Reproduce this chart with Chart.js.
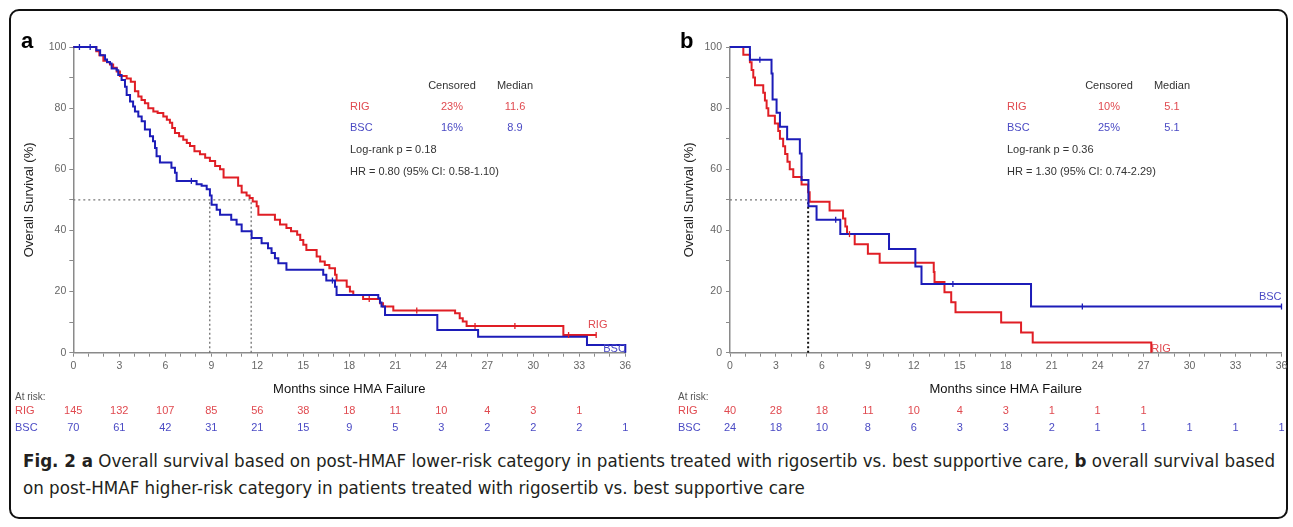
<!DOCTYPE html>
<html>
<head>
<meta charset="utf-8">
<script src="https://cdn.jsdelivr.net/npm/chart.js@4.4.0/dist/chart.umd.min.js"></script>
<style>
  body { margin: 0; background: #fff; width: 1293px; height: 527px; overflow: hidden; position: relative; font-family: "Liberation Sans", Arial, sans-serif; }
  #frame { position: absolute; left: 9px; top: 9px; width: 1279px; height: 510px; box-sizing: border-box; border: 2px solid #111; border-radius: 10px; }
  #wrapA { position: absolute; left: 0; top: 0; width: 650px; height: 440px; }
  #wrapB { position: absolute; left: 650px; top: 0; width: 643px; height: 440px; }
  #caption { position: absolute; left: 23px; top: 447px; font-family: "Liberation Sans Narrow", "DejaVu Sans Condensed", "Liberation Sans", sans-serif; font-size: 18.5px; color: #231f20; }
  #caption .ln { white-space: nowrap; display: inline-block; transform-origin: left center; line-height: 27px; }
</style>
</head>
<body>
<div id="frame"></div>
<div id="wrapA"><canvas id="chartA"></canvas></div>
<div id="wrapB"><canvas id="chartB"></canvas></div>
<div id="caption">
  <span class="ln" id="cap1"><b>Fig. 2 a</b> Overall survival based on post-HMAF lower-risk category in patients treated with rigosertib vs. best supportive care, <b>b</b> overall survival based</span><br>
  <span class="ln" id="cap2">on post-HMAF higher-risk category in patients treated with rigosertib vs. best supportive care</span>
</div>
<script>
// ---- data ----
const riskTimes = [0, 3, 6, 9, 12, 15, 18, 21, 24, 27, 30, 33, 36];

// panel a - lower risk
const rigA_t = [0, 1.5, 1.7, 1.96, 2.2, 2.39, 2.6, 2.83, 3.04, 3.48, 3.75, 4.02, 4.24, 4.45, 4.67, 4.89, 5.22, 5.5, 5.87, 6.1, 6.3, 6.45, 6.63, 6.9, 7.17, 7.4, 7.61, 7.9, 8.26, 8.6, 8.91, 9.25, 9.57, 9.8, 10.75, 10.98, 11.3, 11.5, 11.7, 11.96, 12.07, 13.15, 13.48, 13.9, 14.2, 14.6, 14.8, 15.0, 15.2, 15.87, 16.1, 16.4, 16.7, 17.07, 17.17, 17.83, 18.04, 18.26, 18.9, 20.0, 20.2, 20.87, 24.9, 25.2, 25.4, 25.65, 31.96, 34.1];
const rigA_s = [100, 98.6, 97.3, 95.5, 95.0, 94.3, 93.2, 92.0, 90.5, 89.7, 88.6, 85.5, 83.8, 82.7, 81.6, 80.0, 78.9, 78.4, 77.3, 76.2, 75.2, 73.5, 71.9, 70.8, 69.7, 68.6, 67.6, 65.9, 64.9, 63.8, 62.7, 61.1, 60.0, 57.3, 54.6, 52.4, 51.4, 50.6, 49.5, 47.9, 45.1, 43.5, 41.9, 40.8, 39.7, 38.6, 36.9, 35.3, 33.6, 31.5, 29.8, 28.7, 27.6, 25.5, 23.6, 21.6, 20.0, 18.9, 17.6, 16.2, 15.1, 13.8, 12.9, 11.3, 10.2, 8.7, 5.8, 5.8];
const bscA_t = [0, 1.5, 1.75, 2.07, 2.2, 2.39, 2.5, 2.83, 2.93, 3.15, 3.37, 3.48, 3.7, 3.9, 4.02, 4.24, 4.46, 4.67, 5.0, 5.2, 5.33, 5.43, 5.65, 6.4, 6.63, 6.74, 8.04, 8.37, 8.7, 8.91, 9.02, 9.35, 9.57, 10.3, 10.65, 10.98, 11.63, 12.28, 12.7, 12.93, 13.15, 13.37, 13.9, 16.3, 16.5, 17.07, 17.17, 19.89, 20.0, 20.1, 20.33, 23.74, 26.4, 33.5, 36];
const bscA_s = [100, 98.9, 97.3, 95.9, 95.1, 94.6, 93.0, 92.4, 90.8, 89.2, 87.0, 84.3, 82.2, 80.5, 78.9, 77.3, 75.7, 73.0, 70.8, 69.2, 67.0, 64.3, 62.2, 60.5, 58.9, 56.2, 55.1, 54.6, 53.5, 51.4, 48.4, 46.8, 45.1, 43.5, 41.9, 39.7, 37.5, 35.8, 34.2, 32.6, 30.9, 29.3, 27.1, 25.5, 23.6, 21.6, 18.9, 17.8, 16.4, 15.1, 12.3, 7.4, 5.2, 2.5, 0];
const rigCensA_t = [19.3, 22.4, 26.2, 28.8, 32.3, 34.1];
const rigCensA_s = [17.6, 13.8, 8.7, 8.7, 5.8, 5.8];
const bscCensA_t = [0.4, 1.1, 7.7, 16.9];
const bscCensA_s = [100, 100, 56.2, 23.6];
const rigRiskA = [145, 132, 107, 85, 56, 38, 18, 11, 10, 4, 3, 1];
const bscRiskA = [70, 61, 42, 31, 21, 15, 9, 5, 3, 2, 2, 2, 1];
const medianA = [11.6, 8.9];
const statsA = { rig: ["23%", "11.6"], bsc: ["16%", "8.9"], lr: "Log-rank p = 0.18", hr: "HR = 0.80 (95% CI: 0.58-1.10)" };

// panel b - higher risk
const rigB_t = [0, 0.87, 1.3, 1.41, 1.52, 1.63, 2.17, 2.28, 2.39, 2.5, 2.93, 3.15, 3.26, 3.47, 3.6, 3.75, 3.9, 4.13, 4.67, 5.1, 5.2, 6.5, 7.38, 7.53, 7.64, 8.14, 9.0, 9.77, 13.3, 13.35, 14.0, 14.44, 14.72, 17.7, 19.0, 19.76, 27.5];
const rigB_s = [100, 97.5, 95.0, 92.5, 90.0, 87.5, 85.0, 82.5, 80.0, 77.5, 75.0, 72.5, 70.0, 67.5, 65.0, 62.5, 60.0, 57.5, 55.0, 52.5, 49.4, 46.5, 43.9, 41.3, 38.8, 35.5, 32.4, 29.4, 26.4, 23.1, 19.8, 16.5, 13.2, 9.9, 6.6, 3.3, 0];
const bscB_t = [0, 1.3, 2.71, 2.78, 3.04, 3.26, 3.73, 4.56, 4.67, 5.12, 5.65, 7.2, 10.38, 12.1, 12.5, 19.65, 36];
const bscB_s = [100, 95.8, 91.3, 82.8, 78.5, 73.9, 69.8, 65.2, 56.5, 47.9, 43.5, 38.8, 33.9, 28.2, 22.5, 15.1, 15.1];
const rigCensB_t = [7.8];
const rigCensB_s = [38.8];
const bscCensB_t = [1.95, 6.9, 14.55, 23.0, 36];
const bscCensB_s = [95.8, 43.5, 22.5, 15.1, 15.1];
const rigRiskB = [40, 28, 18, 11, 10, 4, 3, 1, 1, 1];
const bscRiskB = [24, 18, 10, 8, 6, 3, 3, 2, 1, 1, 1, 1, 1];
const medianB = [5.1];
const statsB = { rig: ["10%", "5.1"], bsc: ["25%", "5.1"], lr: "Log-rank p = 0.36", hr: "HR = 1.30 (95% CI: 0.74-2.29)" };

const RED = "#e01e25";
const BLUE = "#1c1cb8";
const RED_TXT = "#e04a50";
const BLUE_TXT = "#4a4ac4";
const AXIS = "#8a8a8a";

function pts(ts, ss) {
  return ts.map((t, i) => ({ x: t, y: ss[i] }));
}

// text drawn on top of each panel: letter, stats table, at risk table, axis title, curve labels
const kmText = {
  id: "kmText",
  afterDraw(chart, args, o) {
    const ctx = chart.ctx;
    const xs = chart.scales.x;
    const ys = chart.scales.y;
    const ca = chart.chartArea;
    ctx.save();
    ctx.textBaseline = "alphabetic";

    // panel letter
    ctx.fillStyle = "#000";
    ctx.font = "bold 22px 'Liberation Sans', Arial";
    ctx.textAlign = "left";
    ctx.fillText(o.letter, o.letterX, 48);

    ctx.textBaseline = "middle";
    // stats box
    const s = o.stats;
    ctx.font = "11px 'Liberation Sans', Arial";
    ctx.fillStyle = "#333";
    ctx.textAlign = "center";
    ctx.fillText("Censored", o.censX, 86);
    ctx.fillText("Median", o.medX, 86);
    ctx.textAlign = "left";
    ctx.fillStyle = RED_TXT;
    ctx.fillText("RIG", o.labelX, 107);
    ctx.fillStyle = BLUE_TXT;
    ctx.fillText("BSC", o.labelX, 128);
    ctx.textAlign = "center";
    ctx.fillStyle = RED_TXT;
    ctx.fillText(s.rig[0], o.censX, 107);
    ctx.fillText(s.rig[1], o.medX, 107);
    ctx.fillStyle = BLUE_TXT;
    ctx.fillText(s.bsc[0], o.censX, 128);
    ctx.fillText(s.bsc[1], o.medX, 128);
    ctx.textAlign = "left";
    ctx.fillStyle = "#333";
    ctx.fillText(s.lr, o.labelX, 150);
    ctx.fillText(s.hr, o.labelX, 172);

    // curve end labels
    o.endLabels.forEach((l) => {
      ctx.fillStyle = l.color;
      ctx.textAlign = l.align;
      ctx.fillText(l.text, xs.getPixelForValue(l.x), ys.getPixelForValue(l.y));
    });

    // x axis title
    ctx.fillStyle = "#111";
    ctx.font = "13px 'Liberation Sans', Arial";
    ctx.textAlign = "center";
    ctx.fillText("Months since HMA Failure", (ca.left + ca.right) / 2, 389);

    // at risk table
    ctx.font = "10px 'Liberation Sans', Arial";
    ctx.fillStyle = "#555";
    ctx.textAlign = "left";
    ctx.fillText("At risk:", o.riskX, 397);
    ctx.font = "11px 'Liberation Sans', Arial";
    ctx.fillStyle = RED_TXT;
    ctx.fillText("RIG", o.riskX, 411);
    ctx.fillStyle = BLUE_TXT;
    ctx.fillText("BSC", o.riskX, 428);
    ctx.textAlign = "center";
    o.rigRisk.forEach((n, i) => {
      ctx.fillStyle = RED_TXT;
      ctx.fillText(n, xs.getPixelForValue(riskTimes[i]), 411);
    });
    o.bscRisk.forEach((n, i) => {
      ctx.fillStyle = BLUE_TXT;
      ctx.fillText(n, xs.getPixelForValue(riskTimes[i]), 428);
    });
    ctx.restore();
  },
};

function makeKM(id, p) {
  const datasets = [
    { data: pts(p.bscCt, p.bscCs), type: "scatter", showLine: false, pointStyle: "line", rotation: 90, pointRadius: 3, borderColor: BLUE, borderWidth: 1.3 },
    { data: pts(p.rigCt, p.rigCs), type: "scatter", showLine: false, pointStyle: "line", rotation: 90, pointRadius: 3, borderColor: RED, borderWidth: 1.3 },
    { data: pts(p.bscT, p.bscS), stepped: true, borderColor: BLUE, borderWidth: 2, pointRadius: 0 },
    { data: pts(p.rigT, p.rigS), stepped: true, borderColor: RED, borderWidth: 2, pointRadius: 0 },
    // median guide lines
    { data: [{ x: 0, y: 50 }, { x: Math.max(...p.median), y: 50 }], borderColor: "#777", borderWidth: 1.2, borderDash: [2, 3], pointRadius: 0 },
  ];
  p.median.forEach((m) => {
    datasets.push({ data: [{ x: m, y: 0 }, { x: m, y: 50 }], borderColor: p.vColor, borderWidth: p.vWidth, borderDash: [2, 2.5], pointRadius: 0 });
  });

  return new Chart(document.getElementById(id), {
    type: "line",
    data: { datasets: datasets },
    plugins: [kmText],
    options: {
      responsive: true,
      maintainAspectRatio: false,
      animation: false,
      clip: false,
      layout: { padding: { left: p.padLeft, right: p.padRight, top: 47, bottom: 57.3 } },
      plugins: {
        legend: { display: false },
        tooltip: { enabled: false },
        kmText: p.text,
      },
      scales: {
        x: {
          type: "linear",
          min: 0,
          max: 36,
          afterFit: (axis) => { axis.height = 30; },
          border: { display: true, color: AXIS, width: 1.5 },
          grid: { drawOnChartArea: false, drawTicks: true, tickLength: 4, color: AXIS },
          ticks: {
            stepSize: 1,
            autoSkip: false,
            maxRotation: 0,
            padding: 3,
            color: "#666",
            font: { size: 10.5, family: "'Liberation Sans', Arial" },
            callback: (v) => (v % 3 === 0 ? v : ""),
          },
        },
        y: {
          min: 0,
          max: 100,
          afterFit: (axis) => { axis.width = p.yAxisW; },
          border: { display: true, color: AXIS, width: 1.5 },
          grid: { drawOnChartArea: false, drawTicks: true, tickLength: 4, color: AXIS },
          title: { display: true, text: "Overall Survival (%)", color: "#222", font: { size: 13, family: "'Liberation Sans', Arial" }, padding: { top: 4, bottom: 4 } },
          ticks: {
            stepSize: 10,
            padding: p.yPad,
            color: "#666",
            font: { size: 10.5, family: "'Liberation Sans', Arial" },
            callback: (v) => (v % 20 === 0 ? v : ""),
          },
        },
      },
    },
  });
}

makeKM("chartA", {
  rigT: rigA_t, rigS: rigA_s, bscT: bscA_t, bscS: bscA_s,
  rigCt: rigCensA_t, rigCs: rigCensA_s, bscCt: bscCensA_t, bscCs: bscCensA_s,
  median: medianA, vColor: "#666", vWidth: 1.2,
  padLeft: 18, padRight: 24.7, yAxisW: 55.3, yPad: 3,
  text: {
    letter: "a", letterX: 21, stats: statsA,
    labelX: 350, censX: 452, medX: 515, riskX: 15,
    rigRisk: rigRiskA, bscRisk: bscRiskA,
    endLabels: [
      { text: "RIG", x: 34.2, y: 9.1, color: RED_TXT, align: "center" },
      { text: "BSC", x: 35.3, y: 1.2, color: BLUE_TXT, align: "center" },
    ],
  },
});

makeKM("chartB", {
  rigT: rigB_t, rigS: rigB_s, bscT: bscB_t, bscS: bscB_s,
  rigCt: rigCensB_t, rigCs: rigCensB_s, bscCt: bscCensB_t, bscCs: bscCensB_s,
  median: medianB, vColor: "#111", vWidth: 2,
  padLeft: 28, padRight: 11.5, yAxisW: 52, yPad: 4,
  text: {
    letter: "b", letterX: 30, stats: statsB,
    labelX: 357, censX: 459, medX: 522, riskX: 28,
    rigRisk: rigRiskB, bscRisk: bscRiskB,
    endLabels: [
      { text: "RIG", x: 27.5, y: 1.2, color: RED_TXT, align: "left" },
      { text: "BSC", x: 36, y: 18.2, color: BLUE_TXT, align: "right" },
    ],
  },
});

// squeeze the caption lines so the first one fills the frame width
const cap1 = document.getElementById("cap1");
const cap2 = document.getElementById("cap2");
const k = 1252 / cap1.getBoundingClientRect().width;
cap1.style.transform = "scaleX(" + k + ")";
cap2.style.transform = "scaleX(" + k + ")";
</script>
</body>
</html>
